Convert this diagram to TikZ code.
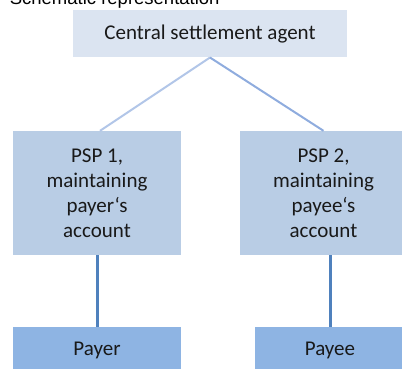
\documentclass[tikz,border=0pt]{standalone}
\usepackage{fontspec}
\setmainfont{Carlito}
\newfontfamily\titlefont{Liberation Sans}
\definecolor{topfill}{RGB}{219,228,241}
\definecolor{pspfill}{RGB}{185,205,229}
\definecolor{endfill}{RGB}{142,180,227}
\definecolor{leftline}{RGB}{178,198,232}
\definecolor{rightline}{RGB}{143,172,222}
\definecolor{vline}{RGB}{79,129,189}
\begin{document}
\begin{tikzpicture}[x=1pt,y=-1pt,
  box/.style={rectangle, inner sep=0pt, align=center, text=black!90,
    font=\fontsize{21}{25}\selectfont},
  topbox/.style={box, fill=topfill, minimum width=274pt, minimum height=47pt},
  pspbox/.style={box, fill=pspfill, minimum width=168pt, minimum height=124pt},
  endbox/.style={box, fill=endfill, minimum height=46pt}]
\useasboundingbox (0,0) rectangle (402,368);
\clip (0,0) rectangle (402,368);
\node[anchor=base west, inner sep=0pt, font=\titlefont\fontsize{18.5}{22}\selectfont] (title) at (9.6,4.6) {Schematic representation};
\node[topbox] (csa) at (210,33.8) {Central settlement agent};
\node[pspbox] (psp1) at (97,193) {PSP 1,\\maintaining\\payer‘s\\account};
\node[pspbox] (psp2) at (323.5,193) {PSP 2,\\maintaining\\payee‘s\\account};
\node[endbox, minimum width=168pt] (payer) at (97,350) {Payer};
\node[endbox, minimum width=150pt] (payee) at (330,350) {Payee};
\draw[leftline, line width=2pt] (csa.south) -- ([xshift=3pt]psp1.north);
\draw[rightline, line width=2pt] (csa.south) -- (psp2.north);
\draw[vline, line width=3pt] (psp1.south) -- (payer.north);
\draw[vline, line width=3pt] (payee.north) -- (payee.north |- psp2.south);
\end{tikzpicture}
\end{document}
